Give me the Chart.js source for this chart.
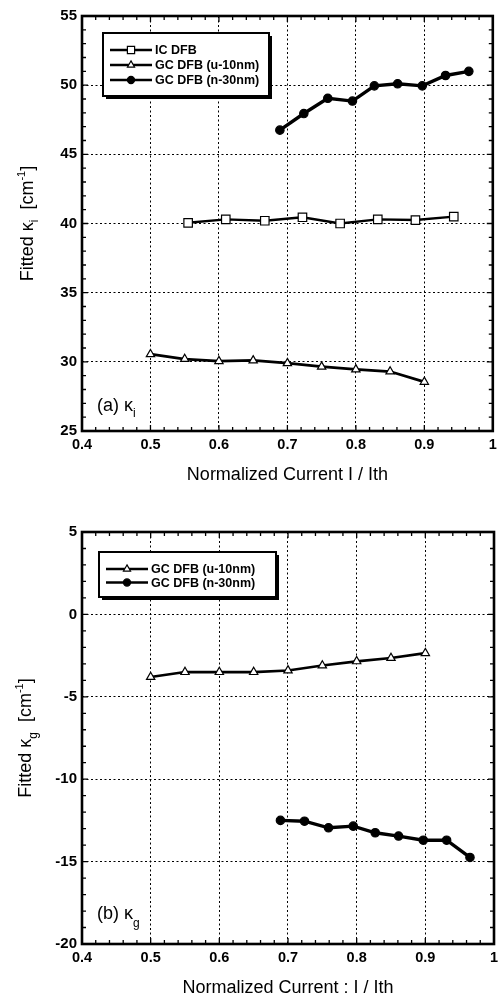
<!DOCTYPE html>
<html>
<head>
<meta charset="utf-8">
<script src="https://cdn.jsdelivr.net/npm/chart.js@4.4.0/dist/chart.umd.min.js"></script>
<style>
  body { margin: 0; background: #fff; }
  #wrapA { position: absolute; left: 0; top: 0; width: 500px; height: 497px; }
  #wrapB { position: absolute; left: 0; top: 497px; width: 500px; height: 500px; }
</style>
</head>
<body>
<div id="wrapA"><canvas id="chartA"></canvas></div>
<div id="wrapB"><canvas id="chartB"></canvas></div>
<script>
/* ================= DATA ================= */

const xTicks = [0.4, 0.5, 0.6, 0.7, 0.8, 0.9, 1.0];
const xTickLabels = ["0.4", "0.5", "0.6", "0.7", "0.8", "0.9", "1"];
const kiTicks = [25, 30, 35, 40, 45, 50, 55];
const kgTicks = [-20, -15, -10, -5, 0, 5];

const nameIC = "IC DFB";
const nameU = "GC DFB (u-10nm)";
const nameN = "GC DFB (n-30nm)";

// IC DFB
const currentIC = [0.555, 0.61, 0.667, 0.722, 0.777, 0.832, 0.887, 0.943];
const kappaI_IC = [40.05, 40.3, 40.2, 40.45, 40.0, 40.3, 40.25, 40.5];

// GC DFB (u-10nm)
const currentU = [0.5, 0.55, 0.6, 0.65, 0.7, 0.75, 0.8, 0.85, 0.9];
const kappaI_U = [30.55, 30.2, 30.05, 30.1, 29.9, 29.65, 29.45, 29.3, 28.55];
const kappaG_U = [-3.8, -3.5, -3.5, -3.5, -3.4, -3.1, -2.85, -2.65, -2.35];

// GC DFB (n-30nm)
const currentN = [0.689, 0.724, 0.759, 0.795, 0.827, 0.861, 0.897, 0.931, 0.965];
const kappaI_N = [46.75, 47.95, 49.05, 48.85, 49.95, 50.1, 49.95, 50.7, 51.0];
const kappaG_N = [-12.5, -12.55, -12.95, -12.85, -13.25, -13.45, -13.7, -13.7, -14.75];

/* ================= HELPERS ================= */

const FONT = "'Liberation Sans', Arial, Helvetica, sans-serif";

function pairs(xs, ys) {
  return xs.map((x, i) => ({ x: x, y: ys[i] }));
}

function marker(ctx, style, x, y, r, fill) {
  ctx.beginPath();
  if (style === "rect") {
    const s = r * Math.SQRT1_2;
    ctx.rect(x - s, y - s, 2 * s, 2 * s);
  } else if (style === "triangle") {
    ctx.moveTo(x, y - r);
    ctx.lineTo(x + r * 0.866, y + r * 0.5);
    ctx.lineTo(x - r * 0.866, y + r * 0.5);
    ctx.closePath();
  } else {
    ctx.arc(x, y, r, 0, Math.PI * 2);
  }
  ctx.fillStyle = fill;
  ctx.fill();
  ctx.lineWidth = 1.2;
  ctx.strokeStyle = "#000";
  ctx.stroke();
}

// parts: [text, size, baseline shift]
function richText(ctx, parts, x, y) {
  let total = 0;
  parts.forEach(p => {
    ctx.font = p[1] + "px " + FONT;
    total += ctx.measureText(p[0]).width;
  });
  let cx = x - total / 2;
  parts.forEach(p => {
    ctx.font = p[1] + "px " + FONT;
    ctx.fillText(p[0], cx, y + p[2]);
    cx += ctx.measureText(p[0]).width;
  });
}

function richTextLeft(ctx, parts, x, y) {
  let cx = x;
  parts.forEach(p => {
    ctx.font = p[1] + "px " + FONT;
    ctx.fillText(p[0], cx, y + p[2]);
    cx += ctx.measureText(p[0]).width;
  });
}

/* ================= DECOR PLUGIN ================= */

const decor = {
  id: "decor",
  afterDraw(chart, args, o) {
    const ctx = chart.ctx;
    const a = chart.chartArea;
    const xs = chart.scales.x;
    const ys = chart.scales.y;

    ctx.save();
    ctx.strokeStyle = "#000";
    ctx.fillStyle = "#000";

    // inward minor / major ticks
    ctx.lineWidth = 1.3;
    ctx.beginPath();
    let n = Math.round((xs.max - xs.min) / o.xMinor);
    for (let i = 0; i <= n; i++) {
      const px = xs.getPixelForValue(xs.min + i * o.xMinor);
      const len = i % 5 === 0 ? 6 : 4;
      ctx.moveTo(px, a.bottom); ctx.lineTo(px, a.bottom - len);
      ctx.moveTo(px, a.top); ctx.lineTo(px, a.top + len);
    }
    n = Math.round((ys.max - ys.min) / o.yMinor);
    for (let i = 0; i <= n; i++) {
      const py = ys.getPixelForValue(ys.min + i * o.yMinor);
      const len = i % 5 === 0 ? 6 : 4;
      ctx.moveTo(a.left, py); ctx.lineTo(a.left + len, py);
      ctx.moveTo(a.right, py); ctx.lineTo(a.right - len, py);
    }
    ctx.stroke();

    // frame
    ctx.lineWidth = 2.6;
    ctx.strokeRect(a.left, a.top, a.right - a.left, a.bottom - a.top);

    // y title
    ctx.save();
    ctx.translate(o.yTitleX, (a.top + a.bottom) / 2);
    ctx.rotate(-Math.PI / 2);
    ctx.textBaseline = "alphabetic";
    richText(ctx, o.yTitle, 0, 6.5);
    ctx.restore();

    // panel label
    ctx.textBaseline = "alphabetic";
    richTextLeft(ctx, o.panel, a.left + 15, a.bottom - o.panelUp);

    // legend box
    const L = o.legend;
    ctx.fillStyle = "#000";
    ctx.fillRect(L.left + 3, L.top + 3, L.width, L.height);
    ctx.fillStyle = "#fff";
    ctx.fillRect(L.left, L.top, L.width, L.height);
    ctx.lineWidth = 2;
    ctx.strokeRect(L.left, L.top, L.width, L.height);

    chart.data.datasets.forEach((ds, i) => {
      const y = L.top + L.firstRow + i * L.rowGap;
      ctx.strokeStyle = "#000";
      ctx.lineWidth = 2.4;
      ctx.beginPath();
      ctx.moveTo(L.left + 7, y);
      ctx.lineTo(L.left + 49, y);
      ctx.stroke();
      marker(ctx, ds.pointStyle, L.left + 28, y, ds.pointRadius * 0.85, ds.pointBackgroundColor);
      ctx.fillStyle = "#000";
      ctx.font = "bold 12.5px " + FONT;
      ctx.textBaseline = "middle";
      ctx.fillText(ds.label, L.left + 52, y + 1);
    });

    ctx.restore();
  }
};

/* ================= CHARTS ================= */

function lineSet(label, xs, ys, style, radius, fill, width) {
  return {
    label: label,
    data: pairs(xs, ys),
    showLine: true,
    borderColor: "#000",
    borderWidth: width,
    pointStyle: style,
    pointRadius: radius,
    pointBackgroundColor: fill,
    pointBorderColor: "#000",
    pointBorderWidth: 1.2,
    tension: 0
  };
}

function makeChart(canvas, datasets, cfg) {
  return new Chart(canvas, {
    type: "scatter",
    data: { datasets: datasets },
    options: {
      responsive: true,
      maintainAspectRatio: false,
      animation: false,
      layout: { padding: { top: cfg.padTop, right: 5, left: 0, bottom: 0 } },
      plugins: {
        legend: { display: false },
        tooltip: { enabled: false },
        decor: cfg.decor
      },
      scales: {
        x: {
          type: "linear",
          min: 0.4,
          max: 1.0,
          afterBuildTicks: s => { s.ticks = xTicks.map(v => ({ value: v })); },
          afterFit: s => { s.height = cfg.xHeight; s.paddingRight = 0; s.paddingLeft = 0; },
          ticks: {
            callback: (v, i) => xTickLabels[i],
            color: "#000",
            font: { family: FONT, size: 14.5, weight: "bold" },
            padding: 5,
            maxRotation: 0,
            autoSkip: false
          },
          grid: { color: "#000", lineWidth: 1, drawTicks: false },
          border: { display: false, dash: [2, 2.5] },
          title: {
            display: true,
            text: cfg.xTitle,
            color: "#000",
            font: { family: FONT, size: 18, lineHeight: 1 },
            padding: { top: 0, bottom: cfg.xTitlePad }
          }
        },
        y: {
          type: "linear",
          min: cfg.yTicks[0],
          max: cfg.yTicks[cfg.yTicks.length - 1],
          afterBuildTicks: s => { s.ticks = cfg.yTicks.map(v => ({ value: v })); },
          afterFit: s => { s.width = 82; },
          ticks: {
            callback: v => String(v),
            color: "#000",
            font: { family: FONT, size: 15, weight: "bold" },
            padding: 5,
            autoSkip: false
          },
          grid: { color: "#000", lineWidth: 1, drawTicks: false },
          border: { display: false, dash: [2, 2.5] }
        }
      }
    },
    plugins: [decor]
  });
}

makeChart(document.getElementById("chartA"), [
  lineSet(nameIC, currentIC, kappaI_IC, "rect", 6, "#fff", 2.4),
  lineSet(nameU, currentU, kappaI_U, "triangle", 4.8, "#fff", 2.8),
  lineSet(nameN, currentN, kappaI_N, "circle", 4.2, "#000", 3.4)
], {
  padTop: 16,
  xHeight: 66,
  xTitle: "Normalized Current I / Ith",
  xTitlePad: 13,
  yTicks: kiTicks,
  decor: {
    xMinor: 0.02,
    yMinor: 1,
    yTitleX: 26,
    yTitle: [["Fitted \u03ba", 18, 0], ["i", 12, 5], ["  [cm", 18, 0], ["-1", 11, -8], ["]", 18, 0]],
    panel: [["(a) \u03ba", 18, 0], ["i", 12, 6]],
    panelUp: 20,
    legend: { left: 103, top: 33, width: 166, height: 63, firstRow: 17, rowGap: 15 }
  }
});

makeChart(document.getElementById("chartB"), [
  lineSet(nameU, currentU, kappaG_U, "triangle", 4.8, "#fff", 2.6),
  lineSet(nameN, currentN, kappaG_N, "circle", 4.2, "#000", 3.4)
], {
  padTop: 35,
  xHeight: 53,
  xTitle: "Normalized Current : I / Ith",
  xTitlePad: 0,
  yTicks: kgTicks,
  decor: {
    xMinor: 0.02,
    yMinor: 1,
    yTitleX: 24,
    yTitle: [["Fitted \u03ba", 18, 0], ["g", 12, 6], ["  [cm", 18, 0], ["-1", 11, -8], ["]", 18, 0]],
    panel: [["(b) \u03ba", 18, 0], ["g", 12, 8]],
    panelUp: 25,
    legend: { left: 99, top: 55, width: 177, height: 45, firstRow: 17, rowGap: 13.5 }
  }
});
</script>
</body>
</html>
